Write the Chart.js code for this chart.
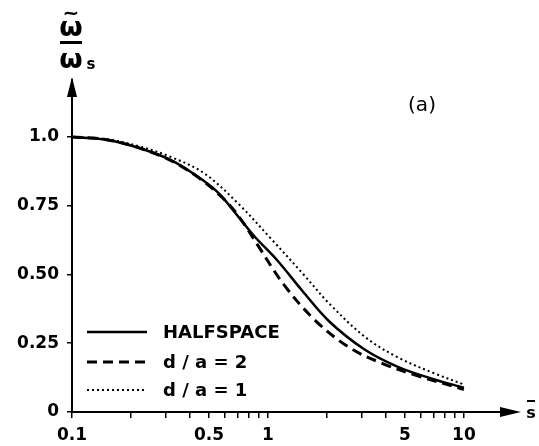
<!DOCTYPE html>
<html>
<head>
<meta charset="utf-8">
<script src="https://cdn.jsdelivr.net/npm/chart.js@4"></script>
<style>
  html, body { margin: 0; padding: 0; background: #fff; }
  canvas { display: block; }
</style>
</head>
<body>
<canvas id="chart" width="539" height="446"></canvas>
<script>
// normalised frequency vs. s-bar, three foundation cases
const halfspaceS = [0.1, 0.15, 0.22, 0.32, 0.44, 0.56, 0.67, 0.85, 1.12, 1.5, 2.05, 3.1, 4.6, 6.8, 10];
const halfspaceW = [1.0, 0.99, 0.96, 0.916, 0.855, 0.796, 0.73, 0.64, 0.55, 0.44, 0.33, 0.228, 0.164, 0.122, 0.088];

const da2S = [0.1, 0.15, 0.22, 0.32, 0.44, 0.6, 0.72, 0.89, 1.2, 1.73, 2.58, 3.79, 5.6, 10];
const da2W = [1.0, 0.99, 0.96, 0.914, 0.853, 0.772, 0.705, 0.605, 0.465, 0.335, 0.236, 0.178, 0.135, 0.082];

const da1S = [0.1, 0.15, 0.22, 0.32, 0.47, 0.7, 1.03, 1.52, 2.05, 3.14, 4.62, 7.1, 10];
const da1W = [1.0, 0.992, 0.966, 0.927, 0.869, 0.76, 0.632, 0.5, 0.395, 0.272, 0.198, 0.14, 0.1];

const xTicks = [0.1, 0.2, 0.3, 0.4, 0.5, 0.6, 0.7, 0.8, 0.9, 1, 2, 3, 4, 5, 6, 7, 8, 9, 10];
const xLabels = { 0.1: '0.1', 0.5: '0.5', 1: '1', 5: '5', 10: '10' };
const yTicks = [0, 0.25, 0.5, 0.75, 1.0];
const yLabels = ['0', '0.25', '0.50', '0.75', '1.0'];

const legendNames = ['HALFSPACE', 'd / a = 2', 'd / a = 1'];

const pts = (xs, ys) => xs.map((x, i) => ({ x: x, y: ys[i] }));

const tickFont = { family: 'DejaVu Sans', size: 17, weight: 'bold' };

// arrows, axis titles, panel tag and the in-plot legend
const decorations = {
  id: 'decorations',
  afterDraw(chart) {
    const ctx = chart.ctx;
    const a = chart.chartArea;
    ctx.save();
    ctx.fillStyle = '#000';
    ctx.strokeStyle = '#000';

    // arrow heads
    ctx.beginPath();
    ctx.moveTo(a.right - 12, a.bottom - 5);
    ctx.lineTo(a.right + 9, a.bottom);
    ctx.lineTo(a.right - 12, a.bottom + 5);
    ctx.closePath();
    ctx.fill();
    ctx.beginPath();
    ctx.moveTo(a.left - 5, a.top + 17);
    ctx.lineTo(a.left, a.top - 3);
    ctx.lineTo(a.left + 5, a.top + 17);
    ctx.closePath();
    ctx.fill();

    // y title: omega-tilde over omega_s
    ctx.textAlign = 'center';
    ctx.textBaseline = 'alphabetic';
    ctx.font = 'bold 27px "DejaVu Sans"';
    ctx.fillText('ω', 71, 36);
    ctx.fillText('ω', 71, 68);
    ctx.font = 'bold 20px "DejaVu Sans"';
    ctx.fillText('~', 71, 19);
    ctx.fillRect(60, 41, 22, 3);
    ctx.font = 'bold 15px "DejaVu Sans"';
    ctx.fillText('s', 91, 69);

    // x title: s-bar
    ctx.font = 'bold 16px "DejaVu Sans"';
    ctx.fillText('s', 531, 418);
    ctx.fillRect(527, 400, 8, 2);

    // panel tag
    ctx.font = '20px "DejaVu Sans"';
    ctx.fillText('(a)', 422, 111);

    // legend
    const rows = [332, 362, 390];
    ctx.textAlign = 'left';
    ctx.textBaseline = 'middle';
    ctx.font = 'bold 18px "DejaVu Sans"';
    chart.data.datasets.forEach((ds, i) => {
      ctx.beginPath();
      ctx.lineWidth = ds.borderWidth;
      ctx.setLineDash(ds.borderDash || []);
      ctx.moveTo(87, rows[i]);
      ctx.lineTo(147, rows[i]);
      ctx.stroke();
      ctx.setLineDash([]);
      ctx.fillText(legendNames[i], 163, rows[i] + 1);
    });
    ctx.restore();
  }
};

new Chart(document.getElementById('chart'), {
  type: 'line',
  data: {
    datasets: [
      { label: legendNames[0], data: pts(halfspaceS, halfspaceW), borderColor: '#000', borderWidth: 2.5, pointRadius: 0, tension: 0.35, fill: false },
      { label: legendNames[1], data: pts(da2S, da2W), borderColor: '#000', borderWidth: 3, borderDash: [10, 6], pointRadius: 0, tension: 0.35, fill: false },
      { label: legendNames[2], data: pts(da1S, da1W), borderColor: '#000', borderWidth: 2, borderDash: [2, 3], pointRadius: 0, tension: 0.35, fill: false }
    ]
  },
  options: {
    responsive: false,
    animation: false,
    devicePixelRatio: 1,
    layout: { padding: { left: 0, top: 80, right: 27, bottom: 0 } },
    plugins: { legend: { display: false }, tooltip: { enabled: false } },
    scales: {
      x: {
        type: 'logarithmic',
        min: 0.1,
        max: 17.6,
        afterBuildTicks: (scale) => { scale.ticks = xTicks.map(v => ({ value: v })); },
        afterFit: (scale) => { scale.height = 34; },
        border: { display: true, color: '#000', width: 2 },
        grid: { drawOnChartArea: false, drawTicks: true, tickLength: 6, color: '#000', lineWidth: 1.5 },
        ticks: {
          autoSkip: false, maxRotation: 0, color: '#000', font: tickFont, padding: 7,
          callback: (v) => xLabels[v] || ''
        }
      },
      y: {
        min: 0,
        max: 1.207,
        afterBuildTicks: (scale) => { scale.ticks = yTicks.map(v => ({ value: v })); },
        afterFit: (scale) => { scale.width = 72; },
        border: { display: true, color: '#000', width: 2 },
        grid: { drawOnChartArea: false, drawTicks: true, tickLength: 5, color: '#000', lineWidth: 1.5 },
        ticks: {
          autoSkip: false, color: '#000', font: tickFont, padding: 8,
          callback: (v) => yLabels[yTicks.indexOf(v)]
        }
      }
    }
  },
  plugins: [decorations]
});
</script>
</body>
</html>
